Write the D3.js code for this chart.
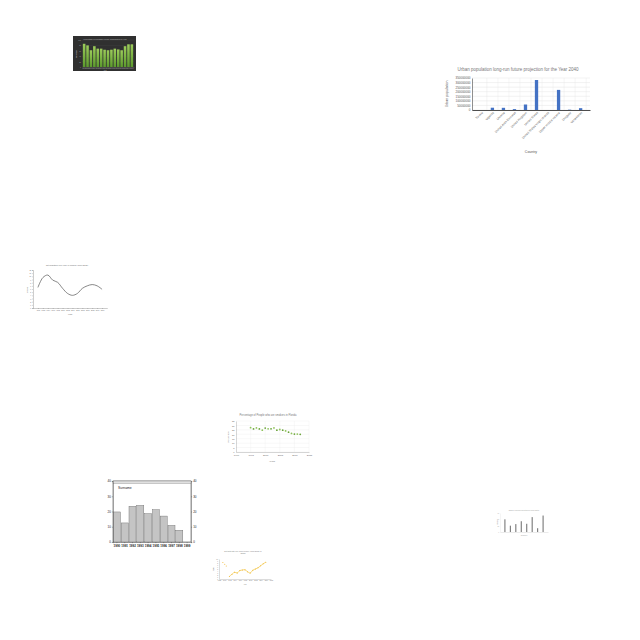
<!DOCTYPE html>
<html><head><meta charset="utf-8">
<script src="https://cdn.jsdelivr.net/npm/d3@7"></script>
<style>html,body{margin:0;padding:0;background:#fff;}svg{display:block;font-family:"Liberation Sans",Arial,sans-serif;}</style>
</head><body>
<svg id="c" width="640" height="640"></svg>
<script>
// ---- data ----
const greenYears = d3.range(2001, 2016).map(String);
const greenValues = [86, 80, 62, 77, 68, 68, 64, 62, 64, 68, 65, 62, 77, 84, 84];

const urbanCountries = ["Tuvalu","Uganda","Ukraine","United Arab Emirates","United Kingdom","United States","United States Virgin Islands","Upper middle income","Uruguay","Uzbekistan"];
const urbanValues = [7000, 25000000, 24000000, 10000000, 60000000, 328000000, 100000, 220000000, 3500000, 20000000];
const urbanTicks = [0, 50000000, 100000000, 150000000, 200000000, 250000000, 300000000, 350000000];

const lineYears = [1990,1992,1994,1996,1998,2000,2002,2004,2006,2008,2010,2012,2014,2016];
const lineValues = [6.5, 9.6, 10.4, 8.8, 8.1, 6.2, 4.6, 4.0, 4.6, 6.2, 7.0, 7.4, 7.0, 5.9];

const scatterYears = [1995,1996,1997,1998,1999,2000,2001,2002,2003,2004,2005,2006,2007,2008,2009,2010,2011,2012];
const scatterValues = [27.5,26.0,27.2,26.0,24.6,27.0,26.2,26.2,27.2,24.6,25.4,24.6,23.8,22.4,21.0,20.2,20.2,19.9];

const surnameYears = ["1990","1991","1992","1993","1994","1995","1996","1997","1998","1999"];
const surnameValues = [19.7, 12.5, 23.4, 24.0, 18.6, 21.2, 17.0, 10.9, 7.7, 0];

const yellowYears = [1992,1993,1994,1995,1996,1997,1998,1999,2000,2001,2002,2003,2004,2005,2006];
const yellowValues = [1.3, 2.4, 3.4, 3.0, 4.2, 4.5, 4.6, 3.6, 3.0, 4.4, 5.0, 5.6, 6.6, 7.6, 8.4];
const yellowEarlyYears = [1989.5, 1990.2, 1990.8];
const yellowEarlyValues = [8.2, 7.4, 6.5];

const smallCats = ["A","B","C","D","E","F","G","H"];
const smallValues = [40, 20, 25, 34, 26, 47, 12, 52];

const svg = d3.select("#c");

function styleAxis(g, size, color, lineColor) {
  g.selectAll("text").attr("font-size", size).attr("fill", color);
  g.selectAll("path,line").attr("stroke", lineColor || color).attr("stroke-width", 0.3);
}

// ---- 1. dark green bar chart ----
(function(){
  const g = svg.append("g");
  g.append("rect").attr("x",73).attr("y",36).attr("width",63).attr("height",35).attr("fill","#303030");
  const x = d3.scaleBand().domain(greenYears).range([82,134]).padding(0.25);
  const y = d3.scaleLinear().domain([0,100]).range([67,40]);
  const grad = svg.append("defs").append("linearGradient").attr("id","gg").attr("x1",0).attr("x2",0).attr("y1",0).attr("y2",1);
  grad.append("stop").attr("offset","0").attr("stop-color","#9ccc5a");
  grad.append("stop").attr("offset","1").attr("stop-color","#5c9a2c");
  g.append("g").selectAll("line").data(y.ticks(5)).join("line")
    .attr("x1",82).attr("x2",134).attr("y1",d=>y(d)).attr("y2",d=>y(d)).attr("stroke","#4a4a4a").attr("stroke-width",0.3);
  g.selectAll("rect.b").data(greenValues).join("rect").attr("class","b")
    .attr("x",(d,i)=>x(greenYears[i])).attr("width",x.bandwidth())
    .attr("y",d=>y(d)).attr("height",d=>y(0)-y(d)).attr("fill","url(#gg)");
  const ya = g.append("g").attr("transform","translate(82,0)").call(d3.axisLeft(y).ticks(5).tickSize(0).tickPadding(1));
  styleAxis(ya,1.6,"#aaa"); ya.select("path").remove();
  const xa = g.append("g").attr("transform","translate(0,67)").call(d3.axisBottom(x).tickSize(0).tickPadding(1));
  styleAxis(xa,1.5,"#aaa","#777");
  g.append("text").attr("x",105).attr("y",39.5).attr("text-anchor","middle").attr("font-size",1.8).attr("fill","#bbb").text("Percentage of renewable energy consumption by year");
  g.append("text").attr("x",105).attr("y",70.5).attr("text-anchor","middle").attr("font-size",1.6).attr("fill","#bbb").text("Year");
  g.append("text").attr("transform","translate(76.5,54) rotate(-90)").attr("text-anchor","middle").attr("font-size",1.6).attr("fill","#bbb").text("Percentage");
})();

// ---- 2. urban population bar chart ----
(function(){
  const g = svg.append("g");
  const x = d3.scaleBand().domain(urbanCountries).range([472,590]).padding(0.7);
  const y = d3.scaleLinear().domain([0,350000000]).range([110,78]);
  g.append("g").selectAll("line").data(urbanTicks).join("line")
    .attr("x1",472).attr("x2",590).attr("y1",d=>y(d)).attr("y2",d=>y(d)).attr("stroke","#ddd").attr("stroke-width",0.4);
  const step = x.step();
  g.append("g").selectAll("line").data(urbanCountries).join("line")
    .attr("x1",d=>x(d)+x.bandwidth()/2+step/2).attr("x2",d=>x(d)+x.bandwidth()/2+step/2)
    .attr("y1",78).attr("y2",110).attr("stroke","#e6e6e6").attr("stroke-width",0.4);
  g.selectAll("rect.b").data(urbanValues).join("rect").attr("class","b")
    .attr("x",(d,i)=>x(urbanCountries[i])).attr("width",x.bandwidth())
    .attr("y",d=>y(d)).attr("height",d=>y(0)-y(d)).attr("fill","#4472c4");
  const ya = g.append("g").attr("transform","translate(472,0)").call(d3.axisLeft(y).tickValues(urbanTicks).tickFormat(d3.format("d")).tickSize(0).tickPadding(1.5));
  styleAxis(ya,3,"#555","#444");
  ya.select("path").attr("stroke-width",0.6);
  const xa = g.append("g").attr("transform","translate(0,110)").call(d3.axisBottom(x).tickSize(0).tickPadding(1.5));
  styleAxis(xa,3,"#555","#222");
  xa.select("path").attr("stroke-width",0.8);
  xa.selectAll("text").attr("text-anchor","end").attr("transform","rotate(-45)").attr("dx","-0.3em").attr("dy","0.6em");
  g.append("text").attr("x",518).attr("y",71).attr("text-anchor","middle").attr("font-size",4.5).attr("fill","#777").text("Urban population long-run future projection for the Year 2040");
  g.append("text").attr("x",531).attr("y",153).attr("text-anchor","middle").attr("font-size",3.5).attr("fill","#555").text("Country");
  g.append("text").attr("transform","translate(448,94) rotate(-90)").attr("text-anchor","middle").attr("font-size",3.5).attr("fill","#555").text("Urban population");
})();

// ---- 3. smooth line chart ----
(function(){
  const g = svg.append("g");
  const x = d3.scaleLinear().domain([1988,2018]).range([33,107]);
  const y = d3.scaleLinear().domain([0,12]).range([308,270]);
  const xa = g.append("g").attr("transform","translate(0,308)").call(d3.axisBottom(x).tickValues(d3.range(1990,2018,2)).tickFormat(d3.format("d")).tickSize(0.8).tickPadding(1));
  styleAxis(xa,1.6,"#666","#555");
  const ya = g.append("g").attr("transform","translate(33,0)").call(d3.axisLeft(y).ticks(12).tickSize(0.8).tickPadding(1));
  styleAxis(ya,1.6,"#666","#555");
  g.append("path").datum(lineValues).attr("fill","none").attr("stroke","#555").attr("stroke-width",0.7)
    .attr("d", d3.line().x((d,i)=>x(lineYears[i])).y(d=>y(d)).curve(d3.curveCatmullRom));
  g.append("text").attr("x",67).attr("y",266).attr("text-anchor","middle").attr("font-size",2).attr("fill","#666").text("Net migration (per year) in Ukraine (1990-2015)");
  g.append("text").attr("x",70).attr("y",314.5).attr("text-anchor","middle").attr("font-size",1.8).attr("fill","#666").text("Years");
  g.append("text").attr("transform","translate(27.5,290) rotate(-90)").attr("text-anchor","middle").attr("font-size",1.8).attr("fill","#666").text("Number");
})();

// ---- 4. scatter ----
(function(){
  const g = svg.append("g");
  const x = d3.scaleLinear().domain([1990,2015]).range([236,309]);
  const y = d3.scaleLinear().domain([0,35]).range([452,421]);
  g.append("g").selectAll("line").data(d3.range(0,36,5)).join("line")
    .attr("x1",236).attr("x2",309).attr("y1",d=>y(d)).attr("y2",d=>y(d)).attr("stroke","#e8e8e8").attr("stroke-width",0.3);
  g.append("g").selectAll("line").data(d3.range(1995,2016,5)).join("line")
    .attr("x1",d=>x(d)).attr("x2",d=>x(d)).attr("y1",421).attr("y2",452).attr("stroke","#ececec").attr("stroke-width",0.3);
  const xa = g.append("g").attr("transform","translate(0,452)").call(d3.axisBottom(x).tickValues(d3.range(1990,2016,5)).tickFormat(d3.format("d")).tickSize(0).tickPadding(2));
  styleAxis(xa,2.4,"#666","#777");
  const ya = g.append("g").attr("transform","translate(236,0)").call(d3.axisLeft(y).tickValues(d3.range(0,36,5)).tickSize(0).tickPadding(1.5));
  styleAxis(ya,2.2,"#666","#777");
  g.selectAll("circle").data(scatterValues).join("circle")
    .attr("cx",(d,i)=>x(scatterYears[i])).attr("cy",d=>y(d)).attr("r",0.9).attr("fill",(d,i)=>i%2?"#6aa33a":"#8fc45a");
  g.append("text").attr("x",268).attr("y",416).attr("text-anchor","middle").attr("font-size",2.6).attr("fill","#777").text("Percentage of People who are smokers in Florida");
  g.append("text").attr("x",272).attr("y",461.5).attr("text-anchor","middle").attr("font-size",2.4).attr("fill","#777").text("Years");
  g.append("text").attr("transform","translate(229,437) rotate(-90)").attr("text-anchor","middle").attr("font-size",2.2).attr("fill","#777").text("Percentage");
})();

// ---- 5. Surname bar chart ----
(function(){
  const g = svg.append("g");
  const x = d3.scaleBand().domain(surnameYears).range([113,191]).paddingInner(0.1).paddingOuter(0.05);
  const y = d3.scaleLinear().domain([0,40]).range([542,481]);
  g.append("rect").attr("x",113).attr("y",481).attr("width",78).attr("height",61).attr("fill","none").attr("stroke","#333").attr("stroke-width",0.5);
  g.append("rect").attr("x",113).attr("y",481).attr("width",78).attr("height",2.2).attr("fill","#e0e0e0").attr("stroke","#555").attr("stroke-width",0.3);
  g.selectAll("rect.b").data(surnameValues).join("rect").attr("class","b")
    .attr("x",(d,i)=>x(surnameYears[i])).attr("width",x.bandwidth())
    .attr("y",d=>y(d)).attr("height",d=>y(0)-y(d)).attr("fill","#c4c4c4").attr("stroke","#666").attr("stroke-width",0.4);
  const yl = g.append("g").attr("transform","translate(113,0)").call(d3.axisLeft(y).ticks(4).tickSize(1.2).tickPadding(1));
  styleAxis(yl,3,"#222","#333");
  const yr = g.append("g").attr("transform","translate(191,0)").call(d3.axisRight(y).ticks(4).tickSize(1.2).tickPadding(1));
  styleAxis(yr,3,"#222","#333");
  const xa = g.append("g").attr("transform","translate(0,542)").call(d3.axisBottom(x).tickSize(1.2).tickPadding(1.2));
  styleAxis(xa,3,"#222","#333");
  xa.selectAll("text").attr("font-weight","bold");
  g.append("text").attr("x",118).attr("y",488.5).attr("font-size",3.4).attr("fill","#222").text("Surname");
})();

// ---- 6. yellow line chart ----
(function(){
  const g = svg.append("g");
  const x = d3.scaleLinear().domain([1988,2008]).range([219,271]);
  const y = d3.scaleLinear().domain([0,10]).range([579,559]);
  const xa = g.append("g").attr("transform","translate(0,579)").call(d3.axisBottom(x).tickValues(d3.range(1988,2009,2)).tickFormat(d3.format("d")).tickSize(0).tickPadding(1.2));
  styleAxis(xa,1.5,"#777","#888");
  const ya = g.append("g").attr("transform","translate(219,0)").call(d3.axisLeft(y).tickValues(d3.range(0,11,1)).tickSize(0).tickPadding(1));
  styleAxis(ya,1.5,"#777","#888");
  g.append("path").datum(yellowValues).attr("fill","none").attr("stroke","#f2c744").attr("stroke-width",0.7)
    .attr("d", d3.line().x((d,i)=>x(yellowYears[i])).y(d=>y(d)).curve(d3.curveCatmullRom));
  g.selectAll("circle.a").data(yellowValues).join("circle").attr("class","a")
    .attr("cx",(d,i)=>x(yellowYears[i])).attr("cy",d=>y(d)).attr("r",0.5).attr("fill","#f0b429");
  g.selectAll("circle.e").data(yellowEarlyValues).join("circle").attr("class","e")
    .attr("cx",(d,i)=>x(yellowEarlyYears[i])).attr("cy",d=>y(d)).attr("r",0.5).attr("fill","#f0b429");
  g.append("text").attr("x",243).attr("y",551.5).attr("text-anchor","middle").attr("font-size",1.8).attr("fill","#777").text("Net birth rate (per 1000 people) (1990-2015) in");
  g.append("text").attr("x",243).attr("y",554).attr("text-anchor","middle").attr("font-size",1.8).attr("fill","#777").text("Sudan");
  g.append("text").attr("x",245).attr("y",584.5).attr("text-anchor","middle").attr("font-size",1.5).attr("fill","#777").text("Year");
  g.append("text").attr("transform","translate(214,569) rotate(-90)").attr("text-anchor","middle").attr("font-size",1.5).attr("fill","#777").text("Rate");
})();

// ---- 7. small bar chart ----
(function(){
  const g = svg.append("g");
  const x = d3.scaleBand().domain(smallCats).range([500,548]).padding(0.8);
  const y = d3.scaleLinear().domain([0,60]).range([532,513]);
  g.selectAll("rect.b").data(smallValues).join("rect").attr("class","b")
    .attr("x",(d,i)=>x(smallCats[i])).attr("width",x.bandwidth())
    .attr("y",d=>y(d)).attr("height",d=>y(0)-y(d)).attr("fill","#777");
  const xa = g.append("g").attr("transform","translate(0,532)").call(d3.axisBottom(x).tickSize(0).tickFormat(""));
  styleAxis(xa,1.5,"#bbb","#bbb");
  const ya = g.append("g").attr("transform","translate(500,0)").call(d3.axisLeft(y).ticks(3).tickSize(0).tickPadding(0.8));
  styleAxis(ya,1.5,"#aaa","#ddd");
  g.append("text").attr("x",524).attr("y",511).attr("text-anchor","middle").attr("font-size",1.5).attr("fill","#999").text("Number of species threatened in each country");
  g.append("text").attr("x",524).attr("y",535.5).attr("text-anchor","middle").attr("font-size",1.5).attr("fill","#999").text("Countries");
  g.append("text").attr("transform","translate(497.5,522) rotate(-90)").attr("text-anchor","middle").attr("font-size",1.5).attr("fill","#999").text("Species");
})();
</script>
</body></html>
